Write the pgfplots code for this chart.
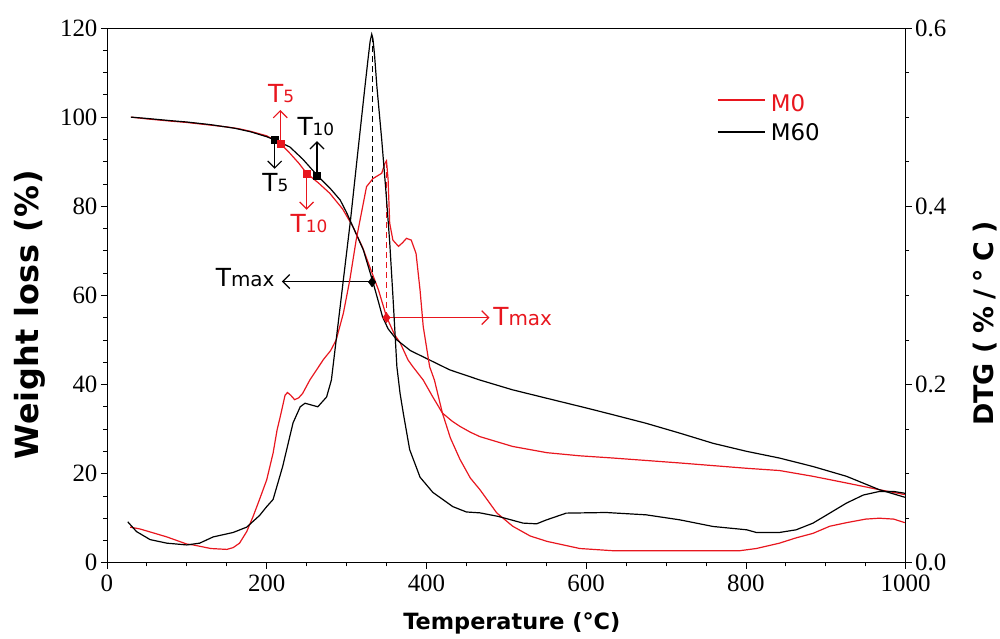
\documentclass[border=0pt]{standalone}
\usepackage{fontspec}
\setmainfont{DejaVu Sans}
\newfontfamily\tnum{Liberation Serif}
\usepackage{pgfplots}
\usepackage{pgfplotstable}
\pgfplotsset{compat=1.18}
\usetikzlibrary{arrows.meta}
\definecolor{mred}{RGB}{232,22,30}

\newcommand{\Tlab}[1]{{\fontsize{25}{25}\selectfont T}{\fontsize{17}{17}\selectfont #1}}
\newcommand{\Tmx}{{\fontsize{25}{25}\selectfont T}{\fontsize{20}{20}\selectfont max}}

% TG, M0 (red)
\pgfplotstableread{
T W
30 100
50 99.6
80 99.1
100 98.8
130 98.2
150 97.8
165 97.4
180 96.8
200 95.8
217 94.1
229 91.9
240 89.7
250 87.4
265 85.2
279 82.9
295 79.4
308 75.4
320 70.8
329 66.4
340 61.2
350 55.2
360 51.2
367 49.4
377 45.5
383 44.0
396 41.0
408 37.2
420 33.6
432 31.8
442 30.6
455 29.3
467 28.3
508 26.1
551 24.7
592 24.0
634 23.5
717 22.4
801 21.2
842 20.7
884 19.4
926 17.9
967 16.4
999 15.3
}\tgred
% TG, M60 (black)
\pgfplotstableread{
T W
30 100
50 99.7
80 99.2
100 98.9
130 98.3
160 97.5
180 96.7
200 95.6
210 94.9
229 93.3
245 90.6
264 86.8
280 83.9
292 81.4
300 78.6
307 75.8
321 70.2
333 63.0
340 58.5
345 55.2
352 52.5
363 50.0
380 47.6
396 46.2
429 43.3
467 41.0
508 38.8
551 36.9
601 34.7
634 33.2
675 31.3
717 29.1
759 26.8
801 25.0
842 23.5
884 21.6
926 19.4
967 16.4
999 14.7
}\tgblack
% DTG, M0 (red)
\pgfplotstableread{
T D
29 0.040
41 0.038
60 0.033
75 0.029
100 0.021
108 0.020
130 0.016
150 0.015
158 0.017
166 0.022
175 0.035
183 0.052
191 0.071
200 0.093
208 0.123
213 0.149
217 0.164
223 0.188
226 0.191
230 0.188
235 0.183
240 0.185
245 0.190
254 0.205
271 0.228
280 0.238
287 0.250
296 0.280
304 0.317
312 0.362
325 0.422
333 0.431
344 0.437
348 0.448
350 0.451
352 0.430
354 0.381
358 0.362
365 0.355
370 0.359
375 0.364
381 0.362
387 0.347
392 0.306
396 0.265
404 0.220
410 0.205
420 0.168
430 0.140
442 0.116
455 0.095
467 0.082
488 0.056
508 0.041
530 0.030
551 0.024
592 0.016
634 0.0135
717 0.0135
792 0.0135
813 0.016
842 0.022
863 0.028
884 0.033
905 0.041
926 0.045
950 0.049
967 0.050
985 0.049
999 0.045
}\dtgred
% DTG, M60 (black)
\pgfplotstableread{
T D
26 0.046
37 0.035
54 0.026
75 0.022
100 0.020
116 0.022
133 0.029
158 0.034
175 0.040
191 0.053
200 0.063
208 0.071
220 0.108
233 0.157
242 0.175
248 0.179
256 0.177
264 0.175
275 0.186
281 0.205
293 0.295
305 0.385
314 0.460
323 0.534
327 0.566
329.5 0.585
331.5 0.593
333 0.588
335 0.570
338 0.534
344 0.475
349 0.420
354 0.360
358 0.300
363 0.220
367 0.190
371 0.168
379 0.127
392 0.096
408 0.079
433 0.063
450 0.057
467 0.056
490 0.052
521 0.0445
538 0.0437
550 0.048
575 0.0557
625 0.0564
675 0.0538
717 0.0482
759 0.0407
801 0.037
813 0.034
842 0.034
863 0.037
884 0.0445
905 0.0557
926 0.067
947 0.076
967 0.080
985 0.080
999 0.078
}\dtgblack

\tikzset{arr/.style={-{Straight Barb[length=7bp,width=14bp]}, line width=1.2bp}}
\pgfplotsset{
  common/.style={
    scale only axis, width=799bp, height=535bp,
    xmin=0, xmax=1000,
    tick align=outside,
    major tick length=6bp, minor tick length=3.5bp,
    axis line style={line width=0.8bp},
    every tick/.style={line width=0.8bp, black},
    /pgf/number format/assume math mode=true,
    /pgf/number format/1000 sep={},
    tick label style={font=\tnum\fontsize{25}{25}\selectfont},
  },
}

\begin{document}
\begin{tikzpicture}
\begin{axis}[common,
  ymin=0, ymax=120,
  xtick={0,200,...,1000}, ytick={0,20,...,120},
  minor x tick num=3, minor y tick num=3,
  tick pos=left,
  xticklabel style={yshift=-3bp},
  xlabel={Temperature (°C)},
  ylabel={Weight loss (\%)},
  xlabel style={font=\fontsize{22.5}{22.5}\selectfont\bfseries, at={(axis description cs:0.507,-0.114)}, anchor=center},
  ylabel style={font=\fontsize{32}{32}\selectfont\bfseries\addfontfeatures{LetterSpace=2}, at={(axis description cs:-0.096,0.4636)}, anchor=center},
]
\coordinate (BL) at (rel axis cs:0,0);
\addplot[mred, line width=1.2bp] table[x=T,y=W] {\tgred};
\addplot[black, line width=1.2bp] table[x=T,y=W] {\tgblack};
% dashed lines from T_max points to DTG peaks (DTG x 200 on this scale)
\draw[black, line width=0.9bp, dash pattern=on 6bp off 4bp] (axis cs:332,63.0) -- (axis cs:332,118.6);
\draw[mred, line width=0.9bp, dash pattern=on 6bp off 4bp] (axis cs:350,55.0) -- (axis cs:350,90.2);
% arrows
\draw[arr, mred] (axis cs:217,94.1) -- (axis cs:217,101.6);
\draw[arr, black] (axis cs:210,94.9) -- (axis cs:210,88.4);
\draw[arr, black] (axis cs:263,86.8) -- (axis cs:263,94.6);
\draw[arr, mred] (axis cs:250,87.4) -- (axis cs:250,79.2);
\draw[arr, black] (axis cs:332,63.1) -- (axis cs:219,63.1);
\draw[arr, mred] (axis cs:350,55.0) -- (axis cs:479,55.0);
% marks
\addplot[only marks, mark=square*, mark size=3.5bp, black] coordinates {(210,94.9) (263,86.8)};
\addplot[only marks, mark=square*, mark size=3.5bp, mred] coordinates {(217,94.1) (250,87.4)};
\addplot[only marks, mark=diamond*, mark size=5bp, black] coordinates {(332,63.0)};
\addplot[only marks, mark=diamond*, mark size=5bp, mred] coordinates {(350,55.0)};
% labels
\node[mred, anchor=base, inner sep=0] at (axis cs:218,103.2) {\Tlab{5}};
\node[black, anchor=base, inner sep=0] at (axis cs:211,83.3) {\Tlab{5}};
\node[black, anchor=base, inner sep=0] at (axis cs:261.6,95.9) {\Tlab{10}};
\node[mred, anchor=base, inner sep=0] at (axis cs:253,74.0) {\Tlab{10}};
\node[black, anchor=base east, inner sep=0] at (axis cs:210,62.0) {\Tmx};
\node[mred, anchor=base west, inner sep=0] at (axis cs:483.5,53.2) {\Tmx};
% legend
\draw[mred, line width=1.2bp] (rel axis cs:0.7647,0.8654) -- (rel axis cs:0.8235,0.8654);
\draw[black, line width=1.2bp] (rel axis cs:0.7647,0.8056) -- (rel axis cs:0.8235,0.8056);
\node[mred, anchor=west, inner sep=0, font=\fontsize{23}{23}\selectfont] at (rel axis cs:0.831,0.8589) {M0};
\node[black, anchor=west, inner sep=0, font=\fontsize{23}{23}\selectfont] at (rel axis cs:0.831,0.8047) {M60};
\end{axis}
\begin{axis}[common,
  ymin=0, ymax=0.6,
  axis y line*=right, axis x line=none,
  ytick={0,0.2,0.4,0.6}, minor y tick num=3,
  yticklabel style={/pgf/number format/.cd, fixed, fixed zerofill, precision=1},
  ylabel={DTG {\addfontfeatures{LetterSpace=28}(\%/°C)}},
  ylabel style={font=\fontsize{27}{27}\selectfont\bfseries, at={(axis description cs:1.099,0.447)}, anchor=center},
]
\addplot[mred, line width=1.2bp] table[x=T,y=D] {\dtgred};
\addplot[black, line width=1.2bp] table[x=T,y=D] {\dtgblack};
\end{axis}
\path ([shift={(-107bp,-76bp)}]BL) rectangle ([shift={(893bp,563bp)}]BL);
\end{tikzpicture}
\end{document}
